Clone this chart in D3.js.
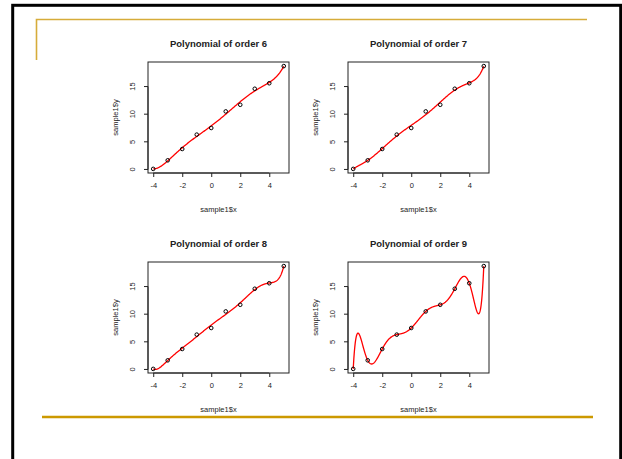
<!DOCTYPE html>
<html>
<head>
<meta charset="utf-8">
<script src="https://cdn.jsdelivr.net/npm/d3@7"></script>
<style>
body { margin: 0; background: #fff; }
svg text { font-family: "Liberation Sans", Arial, sans-serif; fill: #222; }
</style>
</head>
<body>
<div id="slide"></div>
<script>
// sample1 points
var sampleX = [-4, -3, -2, -1, 0, 1, 2, 3, 4, 5];
var sampleY = [0.1, 1.65, 3.7, 6.3, 7.5, 10.5, 11.7, 14.6, 15.6, 18.7];
var orders = [6, 7, 8, 9];
var xTicks = [-4, -2, 0, 2, 4];
var yTicks = [0, 5, 10, 15];

// least squares polynomial fit (x scaled to keep things stable)
function polyfit(xs, ys, deg) {
    var c = 0.5, s = 4.5;
    var n = deg + 1;
    var A = [], b = [];
    for (var i = 0; i < n; i++) { A.push(new Array(n).fill(0)); b.push(0); }
    xs.forEach(function(x, k) {
        var t = (x - c) / s;
        var p = [];
        for (var i = 0; i < n; i++) p.push(Math.pow(t, i));
        for (var i = 0; i < n; i++) {
            b[i] += p[i] * ys[k];
            for (var j = 0; j < n; j++) A[i][j] += p[i] * p[j];
        }
    });
    // gaussian elimination
    for (var i = 0; i < n; i++) {
        var piv = i;
        for (var r = i + 1; r < n; r++) if (Math.abs(A[r][i]) > Math.abs(A[piv][i])) piv = r;
        var tmp = A[i]; A[i] = A[piv]; A[piv] = tmp;
        var tb = b[i]; b[i] = b[piv]; b[piv] = tb;
        for (var r = i + 1; r < n; r++) {
            var f = A[r][i] / A[i][i];
            for (var j = i; j < n; j++) A[r][j] -= f * A[i][j];
            b[r] -= f * b[i];
        }
    }
    var coef = new Array(n).fill(0);
    for (var i = n - 1; i >= 0; i--) {
        var sum = b[i];
        for (var j = i + 1; j < n; j++) sum -= A[i][j] * coef[j];
        coef[i] = sum / A[i][i];
    }
    return function(x) {
        var t = (x - c) / s, v = 0;
        for (var i = n - 1; i >= 0; i--) v = v * t + coef[i];
        return v;
    };
}

var svg = d3.select('#slide').append('svg')
    .attr('width', 622)
    .attr('height', 459);

// slide frame
svg.append('rect')
    .attr('x', 12.7).attr('y', 5.3)
    .attr('width', 608).attr('height', 480)
    .attr('fill', 'none').attr('stroke', '#000').attr('stroke-width', 3);
svg.append('path')
    .attr('d', 'M36.5,60 V19.5 H587')
    .attr('fill', 'none').attr('stroke', '#d6ac3a').attr('stroke-width', 1.6);
svg.append('line')
    .attr('x1', 42).attr('x2', 593).attr('y1', 417).attr('y2', 417)
    .attr('stroke', '#cc9900').attr('stroke-width', 2.4);

var box = {left: 148, right: 289, top: 62, bottom: 173};
var yExt = d3.extent(sampleY);
var yPad = (yExt[1] - yExt[0]) * 0.04;

orders.forEach(function(order, idx) {
    var col = idx % 2, row = Math.floor(idx / 2);
    var g = svg.append('g')
        .attr('transform', 'translate(' + (col * 200) + ',' + (row * 200) + ')');

    var xScale = d3.scaleLinear()
        .domain([-4.36, 5.36])
        .range([box.left, box.right]);
    var yScale = d3.scaleLinear()
        .domain([yExt[0] - yPad, yExt[1] + yPad])
        .range([box.bottom, box.top]);

    g.append('clipPath').attr('id', 'clip' + idx)
        .append('rect')
        .attr('x', box.left).attr('y', box.top)
        .attr('width', box.right - box.left).attr('height', box.bottom - box.top);

    var fit = polyfit(sampleX, sampleY, order);
    var grid = d3.range(0, 401).map(function(i) { return -4 + i * 9 / 400; });
    var line = d3.line()
        .x(function(x) { return xScale(x); })
        .y(function(x) { return yScale(fit(x)); });

    g.append('path')
        .attr('clip-path', 'url(#clip' + idx + ')')
        .attr('fill', 'none')
        .attr('stroke', '#ff0000')
        .attr('stroke-width', 1.3)
        .attr('d', line(grid));

    g.selectAll('circle.pt')
        .data(sampleX)
        .enter().append('circle')
        .attr('cx', function(d) { return xScale(d); })
        .attr('cy', function(d, i) { return yScale(sampleY[i]); })
        .attr('r', 1.8)
        .attr('fill', 'none')
        .attr('stroke', '#000')
        .attr('stroke-width', 1);

    g.append('rect')
        .attr('x', box.left).attr('y', box.top)
        .attr('width', box.right - box.left).attr('height', box.bottom - box.top)
        .attr('fill', 'none').attr('stroke', '#222').attr('stroke-width', 1);

    // x axis
    var xAxis = g.append('g')
        .attr('transform', 'translate(0,' + box.bottom + ')')
        .call(d3.axisBottom(xScale).tickValues(xTicks).tickSize(4).tickPadding(6)
            .tickFormat(function(d) { return d < 0 ? '-' + Math.abs(d) : d; }));
    xAxis.select('.domain')
        .attr('d', 'M' + xScale(-4) + ',0H' + xScale(4))
        .attr('stroke', '#222');
    xAxis.selectAll('line').attr('stroke', '#222');
    xAxis.selectAll('text')
        .attr('font-family', '"Liberation Sans", Arial, sans-serif')
        .attr('font-size', 7.5).attr('fill', '#222');

    // y axis
    var yAxis = g.append('g')
        .attr('transform', 'translate(' + box.left + ',0)')
        .call(d3.axisLeft(yScale).tickValues(yTicks).tickSize(4).tickPadding(0));
    yAxis.select('.domain')
        .attr('d', 'M0,' + yScale(0) + 'V' + yScale(15))
        .attr('stroke', '#222');
    yAxis.selectAll('line').attr('stroke', '#222');
    yAxis.selectAll('text')
        .attr('font-family', '"Liberation Sans", Arial, sans-serif')
        .attr('font-size', 7.5).attr('fill', '#222')
        .attr('text-anchor', 'middle')
        .attr('dy', 0)
        .attr('transform', function(d) { return 'translate(-13,' + yScale(d) + ') rotate(-90)'; })
        .attr('x', 0).attr('y', 0);
    yAxis.selectAll('.tick').attr('transform', null);
    yAxis.selectAll('.tick line')
        .attr('y1', function(d) { return yScale(d); })
        .attr('y2', function(d) { return yScale(d); });

    g.append('text')
        .attr('x', (box.left + box.right) / 2).attr('y', 47)
        .attr('text-anchor', 'middle')
        .attr('font-weight', 'bold').attr('font-size', 9.5)
        .attr('fill', '#111')
        .text('Polynomial of order ' + order);

    g.append('text')
        .attr('x', (box.left + box.right) / 2).attr('y', 212)
        .attr('text-anchor', 'middle')
        .attr('font-size', 7.5)
        .text('sample1$x');

    g.append('text')
        .attr('transform', 'translate(118,' + ((box.top + box.bottom) / 2) + ') rotate(-90)')
        .attr('text-anchor', 'middle')
        .attr('font-size', 7.5)
        .text('sample1$y');
});
</script>
</body>
</html>
